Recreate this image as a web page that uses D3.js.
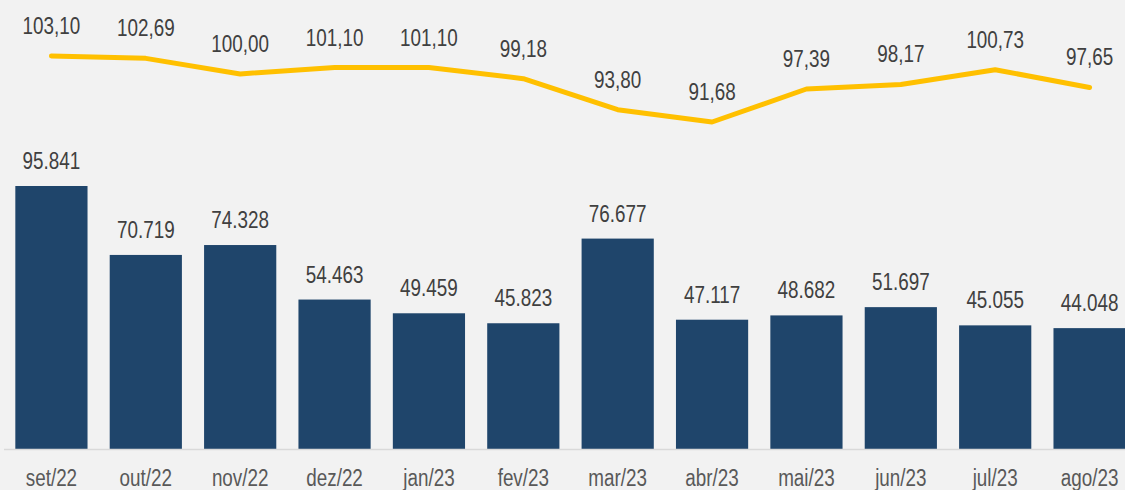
<!DOCTYPE html>
<html><head><meta charset="utf-8">
<script src="https://cdn.jsdelivr.net/npm/d3@7"></script>
<style>html,body{margin:0;padding:0;background:#f2f2f2;overflow:hidden}</style>
</head><body>
<svg id="c" width="1125" height="490"></svg>
<script>
const categories = ["set/22","out/22","nov/22","dez/22","jan/23","fev/23","mar/23","abr/23","mai/23","jun/23","jul/23","ago/23"];
const barValues = [95841,70719,74328,54463,49459,45823,76677,47117,48682,51697,45055,44048];
const lineValues = [103.10,102.69,100.00,101.10,101.10,99.18,93.80,91.68,97.39,98.17,100.73,97.65];

const W = 1125, H = 490;
const svg = d3.select("#c");
svg.append("rect").attr("width", W).attr("height", H).attr("fill", "#f2f2f2");

const font = "'Liberation Sans', Arial, sans-serif";
const fs = 23, sx = 0.82;
const baseY = 449;

const x = d3.scaleBand().domain(categories).range([4, 1137]).paddingInner(0.235).paddingOuter(0.12);
const yBar = d3.scaleLinear().domain([0, 95841]).range([baseY, 186]);
const yLine = d3.scaleLinear().domain([91.68, 103.10]).range([122, 56]);
const cx = i => x(categories[i]) + x.bandwidth()/2;

const fmtBar = d => d3.format(",")(d).replace(/,/g, ".");
const fmtLine = d => d3.format(".2f")(d).replace(".", ",");

// bars
svg.append("g").selectAll("rect").data(barValues).join("rect")
  .attr("x", (d,i) => x(categories[i]))
  .attr("y", d => yBar(d))
  .attr("width", x.bandwidth())
  .attr("height", d => baseY - yBar(d))
  .attr("fill", "#1f456b");

// axis
const xAxis = svg.append("g").attr("transform", `translate(0,${baseY})`)
  .call(d3.axisBottom(x).tickSize(0).tickPadding(0));
xAxis.select(".domain").attr("stroke", "#d9d9d9").attr("stroke-width", 1.5).attr("d", "M4,0.5H1125");
xAxis.selectAll("text")
  .attr("y", 0).attr("dy", null)
  .attr("transform", `translate(0,37) scale(${sx},1)`)
  .attr("font-family", font).attr("font-size", fs).attr("fill", "#595959");

// bar labels
svg.append("g").selectAll("text").data(barValues).join("text")
  .attr("transform", (d,i) => `translate(${cx(i)},${yBar(d) - 17}) scale(${sx},1)`)
  .attr("text-anchor", "middle")
  .attr("font-family", font).attr("font-size", fs).attr("fill", "#404040")
  .text(fmtBar);

// line
const line = d3.line().x((d,i) => cx(i)).y(d => yLine(d));
svg.append("path").datum(lineValues).attr("d", line)
  .attr("fill", "none").attr("stroke", "#ffc000").attr("stroke-width", 5)
  .attr("stroke-linecap", "round").attr("stroke-linejoin", "round");

svg.append("g").selectAll("text").data(lineValues).join("text")
  .attr("transform", (d,i) => `translate(${cx(i)},${yLine(d) - 22}) scale(${sx},1)`)
  .attr("text-anchor", "middle")
  .attr("font-family", font).attr("font-size", fs).attr("fill", "#404040")
  .text(fmtLine);
</script>
</body></html>
